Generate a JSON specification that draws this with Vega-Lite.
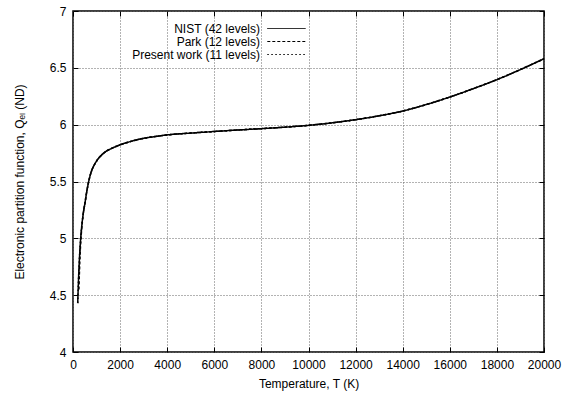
{
  "$schema": "https://vega.github.io/schema/vega-lite/v6.json",
  "autosize": "none",
  "width": 471,
  "height": 341,
  "padding": {"left": 73, "top": 11, "right": 28, "bottom": 45},
  "background": "white",
  "datasets": {
    "curve": [
      {"T": 200, "Q": 4.43}, {"T": 250, "Q": 4.72}, {"T": 300, "Q": 4.92}, {"T": 350, "Q": 5.06},
      {"T": 400, "Q": 5.16}, {"T": 450, "Q": 5.24}, {"T": 500, "Q": 5.30}, {"T": 600, "Q": 5.43},
      {"T": 700, "Q": 5.53}, {"T": 800, "Q": 5.60}, {"T": 900, "Q": 5.645}, {"T": 1000, "Q": 5.68},
      {"T": 1200, "Q": 5.73}, {"T": 1400, "Q": 5.765}, {"T": 1600, "Q": 5.787}, {"T": 1800, "Q": 5.806},
      {"T": 2000, "Q": 5.823}, {"T": 2500, "Q": 5.855}, {"T": 3000, "Q": 5.88}, {"T": 3500, "Q": 5.896},
      {"T": 4000, "Q": 5.91}, {"T": 5000, "Q": 5.926}, {"T": 6000, "Q": 5.94}, {"T": 7000, "Q": 5.953},
      {"T": 8000, "Q": 5.965}, {"T": 9000, "Q": 5.978}, {"T": 10000, "Q": 5.994}, {"T": 11000, "Q": 6.016},
      {"T": 12000, "Q": 6.044}, {"T": 13000, "Q": 6.078}, {"T": 14000, "Q": 6.12}, {"T": 15000, "Q": 6.177},
      {"T": 16000, "Q": 6.243}, {"T": 17000, "Q": 6.317}, {"T": 18000, "Q": 6.396}, {"T": 19000, "Q": 6.485},
      {"T": 20000, "Q": 6.58}
    ],
    "series": [
      {"T": 200, "Q": 4.43, "s": "NIST (42 levels)"}, {"T": 250, "Q": 4.72, "s": "NIST (42 levels)"}, {"T": 300, "Q": 4.92, "s": "NIST (42 levels)"}, {"T": 350, "Q": 5.06, "s": "NIST (42 levels)"},
      {"T": 400, "Q": 5.16, "s": "NIST (42 levels)"}, {"T": 450, "Q": 5.24, "s": "NIST (42 levels)"}, {"T": 500, "Q": 5.30, "s": "NIST (42 levels)"}, {"T": 600, "Q": 5.43, "s": "NIST (42 levels)"},
      {"T": 700, "Q": 5.53, "s": "NIST (42 levels)"}, {"T": 800, "Q": 5.60, "s": "NIST (42 levels)"}, {"T": 900, "Q": 5.645, "s": "NIST (42 levels)"}, {"T": 1000, "Q": 5.68, "s": "NIST (42 levels)"},
      {"T": 1200, "Q": 5.73, "s": "NIST (42 levels)"}, {"T": 1400, "Q": 5.765, "s": "NIST (42 levels)"}, {"T": 1600, "Q": 5.787, "s": "NIST (42 levels)"}, {"T": 1800, "Q": 5.806, "s": "NIST (42 levels)"},
      {"T": 2000, "Q": 5.823, "s": "NIST (42 levels)"}, {"T": 2500, "Q": 5.855, "s": "NIST (42 levels)"}, {"T": 3000, "Q": 5.88, "s": "NIST (42 levels)"}, {"T": 3500, "Q": 5.896, "s": "NIST (42 levels)"},
      {"T": 4000, "Q": 5.91, "s": "NIST (42 levels)"}, {"T": 5000, "Q": 5.926, "s": "NIST (42 levels)"}, {"T": 6000, "Q": 5.94, "s": "NIST (42 levels)"}, {"T": 7000, "Q": 5.953, "s": "NIST (42 levels)"},
      {"T": 8000, "Q": 5.965, "s": "NIST (42 levels)"}, {"T": 9000, "Q": 5.978, "s": "NIST (42 levels)"}, {"T": 10000, "Q": 5.994, "s": "NIST (42 levels)"}, {"T": 11000, "Q": 6.016, "s": "NIST (42 levels)"},
      {"T": 12000, "Q": 6.044, "s": "NIST (42 levels)"}, {"T": 13000, "Q": 6.078, "s": "NIST (42 levels)"}, {"T": 14000, "Q": 6.12, "s": "NIST (42 levels)"}, {"T": 15000, "Q": 6.177, "s": "NIST (42 levels)"},
      {"T": 16000, "Q": 6.243, "s": "NIST (42 levels)"}, {"T": 17000, "Q": 6.317, "s": "NIST (42 levels)"}, {"T": 18000, "Q": 6.396, "s": "NIST (42 levels)"}, {"T": 19000, "Q": 6.485, "s": "NIST (42 levels)"},
      {"T": 20000, "Q": 6.58, "s": "NIST (42 levels)"},
      {"T": 250, "Q": 4.55, "s": "Park (12 levels)"}, {"T": 300, "Q": 4.85, "s": "Park (12 levels)"}, {"T": 350, "Q": 5.03, "s": "Park (12 levels)"},
      {"T": 400, "Q": 5.15, "s": "Park (12 levels)"}, {"T": 450, "Q": 5.24, "s": "Park (12 levels)"}, {"T": 500, "Q": 5.30, "s": "Park (12 levels)"}, {"T": 600, "Q": 5.43, "s": "Park (12 levels)"},
      {"T": 700, "Q": 5.53, "s": "Park (12 levels)"}, {"T": 800, "Q": 5.60, "s": "Park (12 levels)"}, {"T": 900, "Q": 5.645, "s": "Park (12 levels)"}, {"T": 1000, "Q": 5.68, "s": "Park (12 levels)"},
      {"T": 1200, "Q": 5.73, "s": "Park (12 levels)"}, {"T": 1400, "Q": 5.765, "s": "Park (12 levels)"}, {"T": 1600, "Q": 5.787, "s": "Park (12 levels)"}, {"T": 1800, "Q": 5.806, "s": "Park (12 levels)"},
      {"T": 2000, "Q": 5.823, "s": "Park (12 levels)"}, {"T": 2500, "Q": 5.855, "s": "Park (12 levels)"}, {"T": 3000, "Q": 5.88, "s": "Park (12 levels)"}, {"T": 3500, "Q": 5.896, "s": "Park (12 levels)"},
      {"T": 4000, "Q": 5.91, "s": "Park (12 levels)"}, {"T": 5000, "Q": 5.926, "s": "Park (12 levels)"}, {"T": 6000, "Q": 5.94, "s": "Park (12 levels)"}, {"T": 7000, "Q": 5.953, "s": "Park (12 levels)"},
      {"T": 8000, "Q": 5.965, "s": "Park (12 levels)"}, {"T": 9000, "Q": 5.978, "s": "Park (12 levels)"}, {"T": 10000, "Q": 5.994, "s": "Park (12 levels)"}, {"T": 11000, "Q": 6.016, "s": "Park (12 levels)"},
      {"T": 12000, "Q": 6.044, "s": "Park (12 levels)"}, {"T": 13000, "Q": 6.078, "s": "Park (12 levels)"}, {"T": 14000, "Q": 6.12, "s": "Park (12 levels)"}, {"T": 15000, "Q": 6.177, "s": "Park (12 levels)"},
      {"T": 16000, "Q": 6.243, "s": "Park (12 levels)"}, {"T": 17000, "Q": 6.317, "s": "Park (12 levels)"}, {"T": 18000, "Q": 6.396, "s": "Park (12 levels)"}, {"T": 19000, "Q": 6.485, "s": "Park (12 levels)"},
      {"T": 20000, "Q": 6.58, "s": "Park (12 levels)"},
      {"T": 200, "Q": 4.43, "s": "Present work (11 levels)"}, {"T": 250, "Q": 4.72, "s": "Present work (11 levels)"}, {"T": 300, "Q": 4.92, "s": "Present work (11 levels)"}, {"T": 350, "Q": 5.06, "s": "Present work (11 levels)"},
      {"T": 400, "Q": 5.16, "s": "Present work (11 levels)"}, {"T": 450, "Q": 5.24, "s": "Present work (11 levels)"}, {"T": 500, "Q": 5.30, "s": "Present work (11 levels)"}, {"T": 600, "Q": 5.43, "s": "Present work (11 levels)"},
      {"T": 700, "Q": 5.53, "s": "Present work (11 levels)"}, {"T": 800, "Q": 5.60, "s": "Present work (11 levels)"}, {"T": 900, "Q": 5.645, "s": "Present work (11 levels)"}, {"T": 1000, "Q": 5.68, "s": "Present work (11 levels)"},
      {"T": 1200, "Q": 5.73, "s": "Present work (11 levels)"}, {"T": 1400, "Q": 5.765, "s": "Present work (11 levels)"}, {"T": 1600, "Q": 5.787, "s": "Present work (11 levels)"}, {"T": 1800, "Q": 5.806, "s": "Present work (11 levels)"},
      {"T": 2000, "Q": 5.823, "s": "Present work (11 levels)"}, {"T": 2500, "Q": 5.855, "s": "Present work (11 levels)"}, {"T": 3000, "Q": 5.88, "s": "Present work (11 levels)"}, {"T": 3500, "Q": 5.896, "s": "Present work (11 levels)"},
      {"T": 4000, "Q": 5.91, "s": "Present work (11 levels)"}, {"T": 5000, "Q": 5.926, "s": "Present work (11 levels)"}, {"T": 6000, "Q": 5.94, "s": "Present work (11 levels)"}, {"T": 7000, "Q": 5.953, "s": "Present work (11 levels)"},
      {"T": 8000, "Q": 5.965, "s": "Present work (11 levels)"}, {"T": 9000, "Q": 5.978, "s": "Present work (11 levels)"}, {"T": 10000, "Q": 5.994, "s": "Present work (11 levels)"}, {"T": 11000, "Q": 6.016, "s": "Present work (11 levels)"},
      {"T": 12000, "Q": 6.044, "s": "Present work (11 levels)"}, {"T": 13000, "Q": 6.078, "s": "Present work (11 levels)"}, {"T": 14000, "Q": 6.12, "s": "Present work (11 levels)"}, {"T": 15000, "Q": 6.177, "s": "Present work (11 levels)"},
      {"T": 16000, "Q": 6.243, "s": "Present work (11 levels)"}, {"T": 17000, "Q": 6.317, "s": "Present work (11 levels)"}, {"T": 18000, "Q": 6.396, "s": "Present work (11 levels)"}, {"T": 19000, "Q": 6.485, "s": "Present work (11 levels)"},
      {"T": 20000, "Q": 6.58, "s": "Present work (11 levels)"}
    ]
  },
  "config": {
    "font": "Liberation Sans",
    "view": {"stroke": "black", "strokeWidth": 1.5},
    "axis": {
      "labelFont": "Liberation Sans",
      "titleFont": "Liberation Sans",
      "labelFontSize": 12,
      "titleFontSize": 12,
      "titleFontWeight": "normal",
      "labelColor": "black",
      "titleColor": "black",
      "labelOverlap": false,
      "labelFlush": false,
      "domain": false,
      "tickColor": "black",
      "tickWidth": 1,
      "tickSize": -5,
      "gridColor": "#666666",
      "gridDash": [1, 2],
      "gridWidth": 1,
      "gridOpacity": 1
    }
  },
  "layer": [
    {
      "data": {"name": "series"},
      "mark": {"type": "line", "color": "black", "strokeWidth": 1.5, "interpolate": "monotone"},
      "encoding": {
        "x": {
          "field": "T", "type": "quantitative",
          "scale": {"domain": [0, 20000], "nice": false, "zero": false},
          "axis": {"orient": "bottom", "title": "Temperature, T (K)", "values": [0, 2000, 4000, 6000, 8000, 10000, 12000, 14000, 16000, 18000, 20000], "format": "d", "labelPadding": 12, "titlePadding": 8, "grid": true}
        },
        "y": {
          "field": "Q", "type": "quantitative",
          "scale": {"domain": [4, 7], "nice": false, "zero": false},
          "axis": {"orient": "left", "title": "Electronic partition function, Qₑₗ (ND)", "values": [4, 4.5, 5, 5.5, 6, 6.5, 7], "format": ".1~f", "labelPadding": 12, "titlePadding": 23, "grid": true}
        },
        "strokeDash": {
          "field": "s", "type": "nominal",
          "scale": {"domain": ["NIST (42 levels)", "Park (12 levels)", "Present work (11 levels)"], "range": [[1, 0], [3, 2], [1.5, 2.5]]},
          "legend": {
            "title": null,
            "orient": "none",
            "legendX": 207,
            "legendY": 11,
            "padding": 0,
            "symbolType": "M-3.2,0H3.2",
            "symbolSize": 144,
            "symbolStrokeColor": "black",
            "symbolStrokeWidth": 1,
            "labelAlign": "right",
            "labelOffset": -33,
            "labelFontSize": 12,
            "labelFont": "Liberation Sans",
            "labelColor": "black",
            "rowPadding": 0
          }
        }
      }
    },
    {
      "data": {"name": "curve"},
      "mark": {"type": "line", "opacity": 0},
      "encoding": {
        "x": {
          "field": "T", "type": "quantitative",
          "axis": {"orient": "top", "title": null, "values": [0, 2000, 4000, 6000, 8000, 10000, 12000, 14000, 16000, 18000, 20000], "labels": false, "grid": false}
        },
        "y": {
          "field": "Q", "type": "quantitative",
          "axis": {"orient": "right", "title": null, "values": [4, 4.5, 5, 5.5, 6, 6.5, 7], "labels": false, "grid": false}
        }
      }
    }
  ]
}
